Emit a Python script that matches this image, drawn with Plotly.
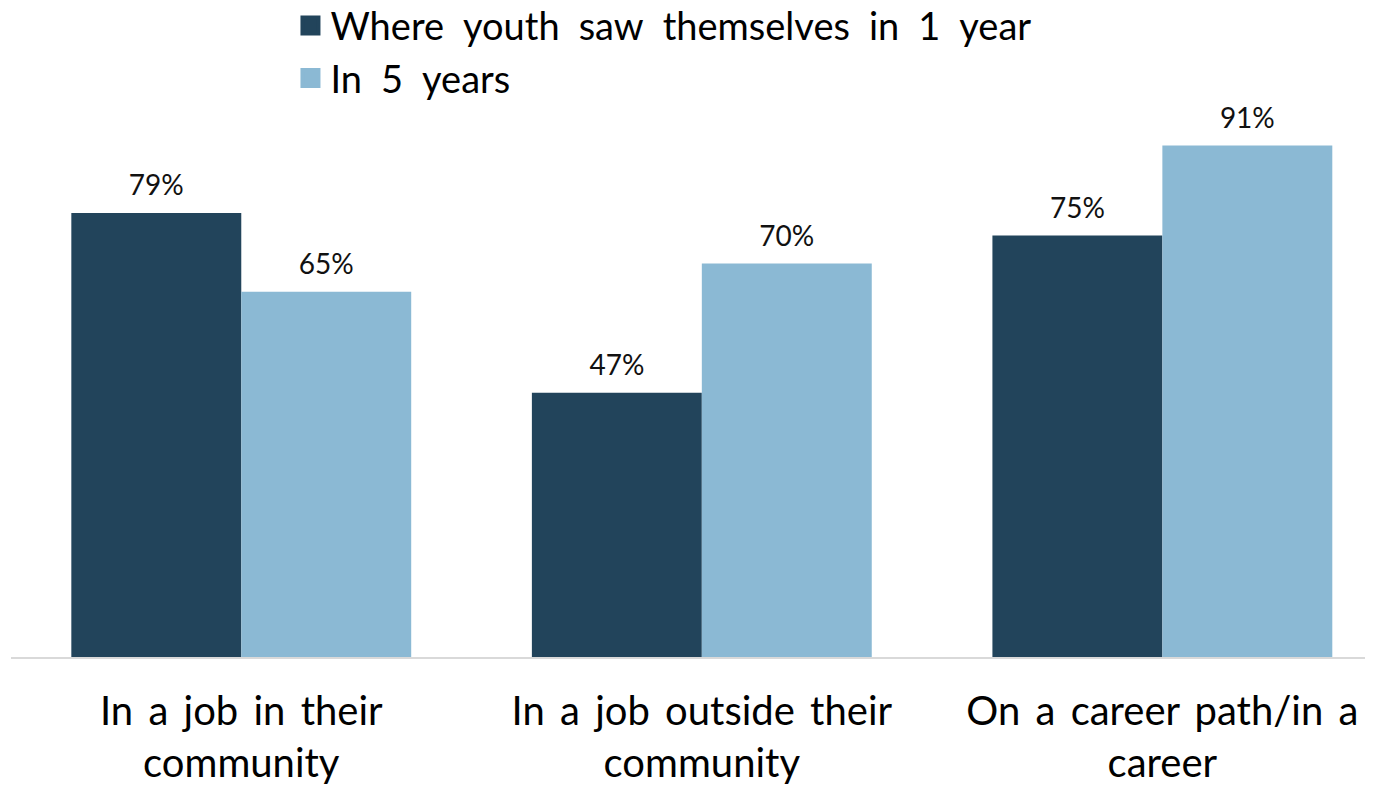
import plotly.graph_objects as go

categories = ["In a job in their<br>community", "In a job outside their<br>community", "On a career path/in a<br>career"]
series_names = ["Where youth saw themselves in 1 year", "In 5 years"]
one_year = [79, 47, 75]
five_years = [65, 70, 91]
colors = ["#22445B", "#8BB9D4"]

FONT = "Lato"
GAP = 0.262


def wide(s, sp):
    return s.replace(" ", sp)


cats = [wide(c, " \u2009") for c in categories]

fig = go.Figure()
for name, vals, col in zip(series_names, [one_year, five_years], colors):
    fig.add_trace(go.Bar(
        x=cats, y=vals, name=wide(name, "\u2002"), marker=dict(color=col, line=dict(width=0)),
        showlegend=False, hoverinfo="skip", yaxis="y",
    ))
# value labels: transparent copies on a slightly shifted overlay axis so labels sit a bit above bars
for name, vals, col in zip(series_names, [one_year, five_years], colors):
    fig.add_trace(go.Bar(
        x=cats, y=vals, name=name, marker=dict(color="rgba(0,0,0,0)", line=dict(width=0)),
        text=[f"{v}%" for v in vals], textposition="outside",
        textfont=dict(family=FONT, size=28, color="#111111"),
        cliponaxis=False, showlegend=False, hoverinfo="skip", yaxis="y2",
    ))
for name, col in zip(series_names, colors):
    fig.add_trace(go.Scatter(
        x=[None], y=[None], mode="markers", name=wide(name, "\u2002"),
        marker=dict(symbol="square", size=16, color=col, line=dict(color=col, width=4)),
        showlegend=True,
    ))

fig.update_layout(
    width=1379, height=785,
    margin=dict(l=11, r=14, t=95, b=128, autoexpand=False),
    paper_bgcolor="white", plot_bgcolor="white",
    barmode="group", bargap=GAP, bargroupgap=0,
    font=dict(family=FONT, color="#000000"),
    legend=dict(
        x=0.2064, xanchor="left", y=1.179, yanchor="top",
        orientation="v", font=dict(family=FONT, size=38, color="#000000"),
        itemsizing="trace", bgcolor="rgba(0,0,0,0)",
    ),
    xaxis=dict(
        range=[-0.5, 2.44], automargin=False,
        showline=True, linecolor="#D9D9D9", linewidth=2, ticks="",
        tickfont=dict(family=FONT, size=40, color="#000000"),
        ticklabelstandoff=18, showgrid=False,
    ),
    yaxis=dict(range=[0, 100], visible=False, showgrid=False, zeroline=False),
    yaxis2=dict(range=[-1.6, 98.4], overlaying="y", visible=False, showgrid=False, zeroline=False),
)

fig.write_html(
    "out.html",
    config={"displayModeBar": False},
    post_script="document.body.style.margin='0px';document.body.style.overflow='hidden';",
)
